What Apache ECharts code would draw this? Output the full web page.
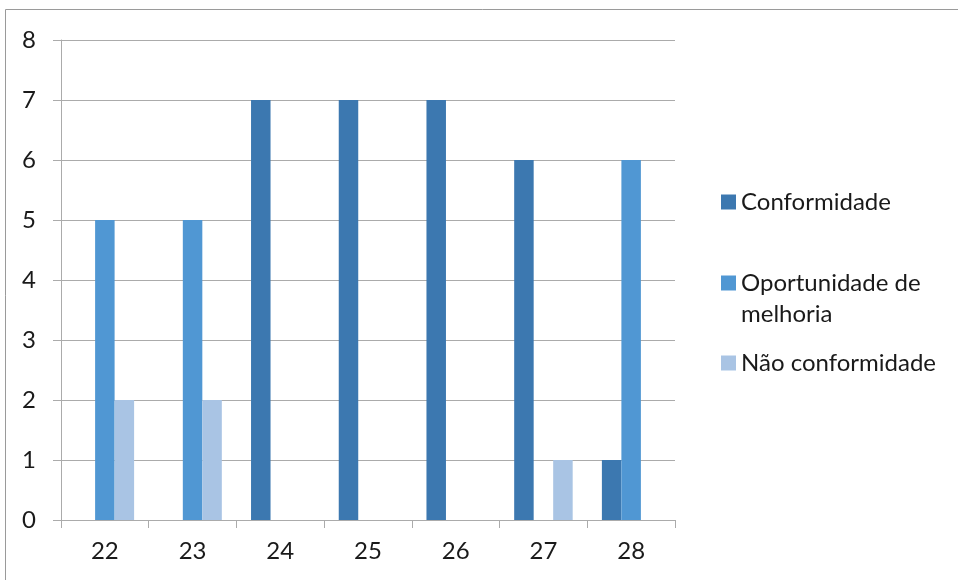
<!DOCTYPE html>
<html>
<head>
<meta charset="utf-8">
<script src="https://cdn.jsdelivr.net/npm/echarts@6/dist/echarts.min.js"></script>
<style>html,body{margin:0;padding:0;background:#fff;}#c{width:958px;height:580px;}</style>
</head>
<body>
<div id="c"></div>
<script>
const categories = ['22', '23', '24', '25', '26', '27', '28'];
const conformidade = [0, 0, 7, 7, 7, 6, 1];
const oportunidade = [5, 5, 0, 0, 0, 0, 6];
const naoConformidade = [2, 2, 0, 0, 0, 1, 0];
const seriesNames = ['Conformidade', 'Oportunidade de melhoria', 'Não conformidade'];
const yTicks = [0, 1, 2, 3, 4, 5, 6, 7, 8];

const FONT = 'Lato';
const FS = 24;
const chart = echarts.init(document.getElementById('c'));
const legendBase = {
  orient: 'vertical', left: 721, padding: 0, itemWidth: 15, itemHeight: 15, itemGap: 0,
  icon: 'rect', selectedMode: false,
  textStyle: { fontFamily: FONT, fontSize: FS, color: '#1a1a1a', lineHeight: 30 }
};
chart.setOption({
  animation: false,
  grid: { left: 61, right: 283, top: 40, bottom: 60 },
  legend: [
    Object.assign({}, legendBase, { top: 187, data: [seriesNames[0]] }),
    Object.assign({}, legendBase, { top: 268, data: [seriesNames[1]], formatter: () => 'Oportunidade de' }),
    Object.assign({}, legendBase, { top: 348, data: [seriesNames[2]] })
  ],
  graphic: [
    { type: 'rect', shape: { x: 5.5, y: 9.5, width: 1000, height: 1000 }, style: { fill: 'none', stroke: '#9a9a9a', lineWidth: 1 }, silent: true },
    { type: 'text', left: 741, top: 299, style: { text: 'melhoria', fontFamily: FONT, fontSize: FS, lineHeight: 30, fill: '#1a1a1a' } }
  ],
  xAxis: {
    type: 'category', data: categories,
    axisLine: { lineStyle: { color: '#ababab', width: 1 } },
    axisTick: { show: true, length: 8, lineStyle: { color: '#ababab' } },
    axisLabel: { margin: 19, fontFamily: FONT, fontSize: FS, color: '#1a1a1a' }
  },
  yAxis: {
    type: 'value', min: yTicks[0], max: yTicks[yTicks.length - 1], interval: 1,
    axisLine: { show: true, lineStyle: { color: '#ababab' } },
    axisTick: { show: true, length: 8, lineStyle: { color: '#ababab' } },
    splitLine: { lineStyle: { color: '#ababab' } },
    axisLabel: { margin: 25, fontFamily: FONT, fontSize: FS, color: '#1a1a1a' }
  },
  series: [
    { name: seriesNames[0], type: 'bar', data: conformidade, itemStyle: { color: '#3c78b0' }, barGap: '0%', barCategoryGap: '33.3%' },
    { name: seriesNames[1], type: 'bar', data: oportunidade, itemStyle: { color: '#5097d3' } },
    { name: seriesNames[2], type: 'bar', data: naoConformidade, itemStyle: { color: '#a9c4e4' } }
  ]
});
</script>
</body>
</html>
